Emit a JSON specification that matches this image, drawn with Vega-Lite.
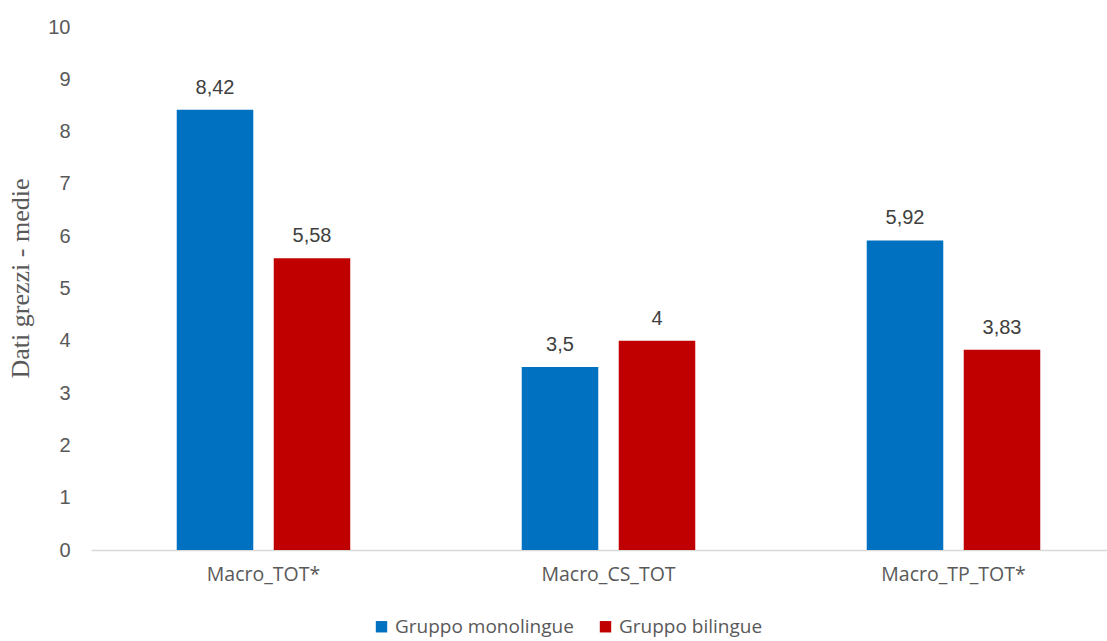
{
  "$schema": "https://vega.github.io/schema/vega-lite/v6.json",
  "autosize": "none",
  "width": 1016,
  "height": 523,
  "padding": {"left": 91, "top": 27, "right": 0, "bottom": 91},
  "background": "white",
  "config": {
    "view": {"stroke": null},
    "locale": {"number": {"decimal": ",", "thousands": ".", "grouping": [3], "currency": ["€", ""]}}
  },
  "data": {
    "values": [
      {"categoria": "Macro_TOT*", "gruppo": "Gruppo monolingue", "media": 8.42},
      {"categoria": "Macro_TOT*", "gruppo": "Gruppo bilingue", "media": 5.58},
      {"categoria": "Macro_CS_TOT", "gruppo": "Gruppo monolingue", "media": 3.5},
      {"categoria": "Macro_CS_TOT", "gruppo": "Gruppo bilingue", "media": 4},
      {"categoria": "Macro_TP_TOT*", "gruppo": "Gruppo monolingue", "media": 5.92},
      {"categoria": "Macro_TP_TOT*", "gruppo": "Gruppo bilingue", "media": 3.83}
    ]
  },
  "encoding": {
    "x": {
      "field": "categoria",
      "type": "nominal",
      "sort": ["Macro_TOT*", "Macro_CS_TOT", "Macro_TP_TOT*"],
      "scale": {"range": [0, 1035], "paddingInner": 0, "paddingOuter": 0},
      "axis": {
        "title": null,
        "labelAngle": 0,
        "labelFont": "Open Sans",
        "labelFontSize": 19.5,
        "labelColor": "#595959",
        "labelPadding": 15,
        "ticks": false,
        "domainColor": "#d9d9d9",
        "domainWidth": 1.5
      }
    },
    "xOffset": {
      "field": "gruppo",
      "type": "nominal",
      "sort": ["Gruppo monolingue", "Gruppo bilingue"],
      "scale": {"paddingInner": 0.211, "paddingOuter": 0.884}
    },
    "y": {
      "field": "media",
      "type": "quantitative",
      "scale": {"domain": [0, 10]},
      "axis": {
        "title": "Dati grezzi - medie",
        "titleFont": "Liberation Serif",
        "titleFontSize": 26,
        "titleFontWeight": "normal",
        "titleColor": "#595959",
        "titlePadding": 14,
        "titleY": 251,
        "titleAlign": "center",
        "values": [0, 1, 2, 3, 4, 5, 6, 7, 8, 9, 10],
        "labelOverlap": false,
        "labelFont": "Liberation Sans",
        "labelFontSize": 20,
        "labelColor": "#595959",
        "labelPadding": 21,
        "ticks": false,
        "domain": false,
        "grid": false
      }
    }
  },
  "layer": [
    {
      "mark": {"type": "bar"},
      "encoding": {
        "color": {
          "field": "gruppo",
          "type": "nominal",
          "sort": ["Gruppo monolingue", "Gruppo bilingue"],
          "scale": {"domain": ["Gruppo monolingue", "Gruppo bilingue"], "range": ["#0070C0", "#C00000"]},
          "legend": {
            "title": null,
            "orient": "none",
            "direction": "horizontal",
            "legendX": 281,
            "legendY": 590,
            "symbolType": "square",
            "symbolSize": 130,
            "symbolStrokeWidth": 0,
            "labelFont": "Open Sans",
            "labelFontSize": 19,
            "labelLimit": 0,
            "labelColor": "#595959",
            "labelOffset": 4,
            "columnPadding": 22
          }
        }
      }
    },
    {
      "mark": {"type": "text", "baseline": "bottom", "dy": -12, "font": "Liberation Sans", "fontSize": 20, "color": "#404040"},
      "encoding": {
        "text": {"field": "media", "type": "quantitative", "format": "~g"}
      }
    }
  ]
}
